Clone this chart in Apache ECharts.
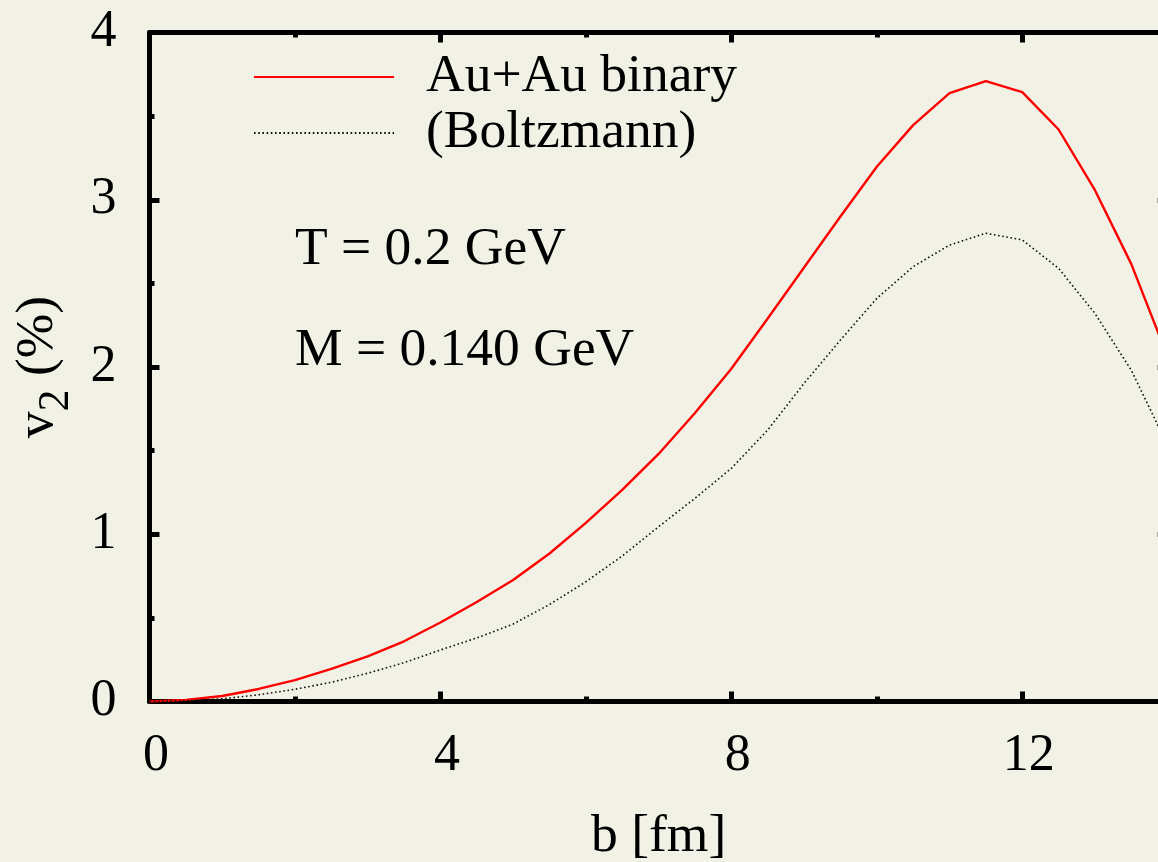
<!DOCTYPE html>
<html>
<head>
<meta charset="utf-8">
<script src="https://cdn.jsdelivr.net/npm/echarts@6/dist/echarts.min.js"></script>
<style>
html,body{margin:0;padding:0;background:#f2f1e6;}
#main{width:1158px;height:862px;}
</style>
</head>
<body>
<div id="main"></div>
<script>
// impact parameter b [fm]
var bValues = [0,0.5,1,1.5,2,2.5,3,3.5,4,4.5,5,5.5,6,6.5,7,7.5,8,8.5,9,9.5,10,10.5,11,11.5,12,12.5,13,13.5,14];
// v2 (%) Au+Au binary
var v2Binary = [0,0.01,0.033,0.075,0.128,0.195,0.27,0.36,0.472,0.595,0.727,0.885,1.068,1.265,1.48,1.725,1.99,2.29,2.595,2.9,3.197,3.446,3.637,3.709,3.643,3.42,3.057,2.615,2.06];
// v2 (%) Boltzmann
var v2Boltzmann = [0,0.004,0.016,0.04,0.073,0.115,0.169,0.232,0.308,0.38,0.463,0.58,0.716,0.87,1.045,1.215,1.394,1.623,1.902,2.161,2.41,2.6,2.729,2.8,2.76,2.59,2.32,1.98,1.53];
var seriesNames = ['Au+Au binary', '(Boltzmann)'];
var annotations = ['T = 0.2 GeV', 'M = 0.140 GeV'];
var xTitle = 'b [fm]';

var FONT = 'Liberation Serif';
var FS = 53.5;
function pairs(ys){ return bValues.map(function(x,i){ return [x, ys[i]]; }); }

var chart = echarts.init(document.getElementById('main'), null, {renderer:'canvas'});

var axisCommon = {
  type: 'value',
  axisLine: {show:true, onZero:false, lineStyle:{color:'#000', width:5}},
  axisTick: {show:true, inside:true, length:10, lineStyle:{color:'#000', width:5}},
  minorTick: {show:true, splitNumber:2, length:5, lineStyle:{color:'#000', width:5}},
  splitLine: {show:false},
  minorSplitLine: {show:false}
};

var option = {
  backgroundColor: '#f2f1e6',
  animation: false,
  grid: {left:149.5, top:32.5, width:1018.2, height:669, containLabel:false, outerBoundsMode:'none'},
  legend: {
    orient: 'vertical',
    left: 253, top: 50, padding: 0,
    itemWidth: 140, itemHeight: 20, itemGap: 2,
    data: seriesNames,
    itemStyle: {opacity: 0},
    textStyle: {fontFamily: FONT, fontSize: FS, color:'#000', lineHeight: 52, padding:[0,0,0,27]}
  },
  xAxis: [
    Object.assign({}, axisCommon, {
      position: 'bottom', min:0, max:14, interval:4,
      axisLabel: {show:true, margin:28.5, fontFamily:FONT, fontSize:52, color:'#000', padding:[0,0,0,13],
        showMaxLabel:false},
      name: xTitle, nameLocation:'middle', nameGap:108,
      nameTextStyle: {fontFamily:FONT, fontSize:FS, color:'#000'}
    }),
    Object.assign({}, axisCommon, {
      position: 'top', min:0, max:14, interval:4,
      axisLabel: {show:false}
    })
  ],
  yAxis: [
    Object.assign({}, axisCommon, {
      position: 'left', min:0, max:4, interval:1,
      axisLabel: {show:true, margin:33, fontFamily:FONT, fontSize:52, color:'#000'},
      name: '{v|v}{s|2}{v| (%)}', nameLocation:'middle', nameGap:71, nameRotate:90,
      nameTextStyle: {
        fontFamily:FONT, fontSize:FS, color:'#000',
        rich: {
          v: {fontFamily:FONT, fontSize:FS, color:'#000'},
          s: {fontFamily:FONT, fontSize:44, color:'#000', verticalAlign:'bottom', padding:[38,0,0,0]}
        }
      }
    }),
    Object.assign({}, axisCommon, {
      position: 'right', min:0, max:4, interval:1,
      axisLabel: {show:false}
    })
  ],
  graphic: [
    {type:'text', left:295, top:232-9, style:{text: annotations[0], font:FS+'px "Liberation Serif"', fill:'#000'}},
    {type:'text', left:295, top:333-9, style:{text: annotations[1], font:FS+'px "Liberation Serif"', fill:'#000'}}
  ],
  series: [
    {
      name: seriesNames[0], type:'line', data: pairs(v2Binary),
      showSymbol:false, symbol:'none', smooth:false, clip:true,
      lineStyle:{color:'#ff0000', width:2.4},
      itemStyle:{color:'#ff0000'}
    },
    {
      name: seriesNames[1], type:'line', data: pairs(v2Boltzmann),
      showSymbol:false, symbol:'none', smooth:false, clip:true,
      lineStyle:{color:'#111', width:1.6, type:[1.6,2.6]},
      itemStyle:{color:'#111'}
    }
  ]
};
chart.setOption(option);
</script>
</body>
</html>
